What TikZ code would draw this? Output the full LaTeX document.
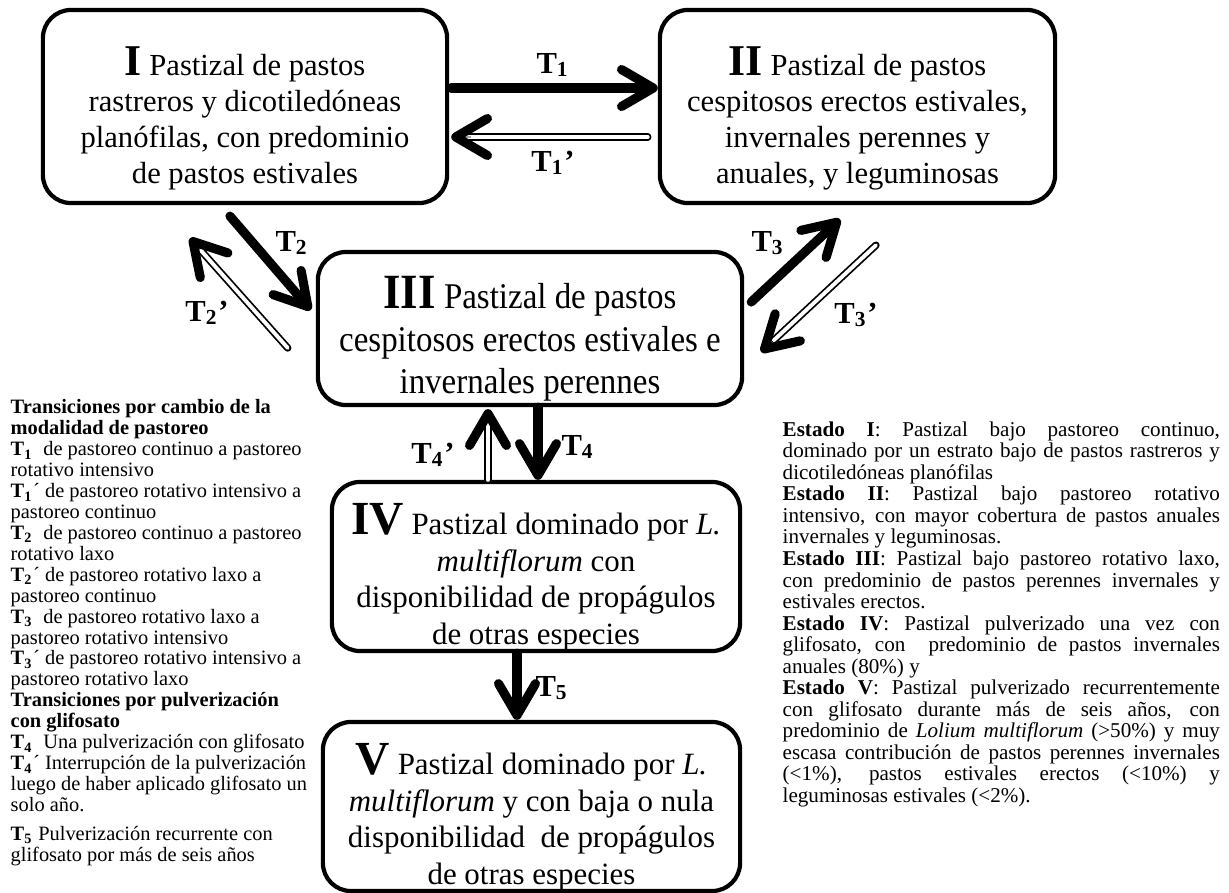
\documentclass[tikz,border=0pt]{standalone}
\usepackage{fontspec}
\setmainfont{Liberation Serif}
\newfontfamily\estrecha[FakeStretch=0.91]{Liberation Serif}
\usetikzlibrary{arrows.meta,calc}
\tikzset{
  every picture/.style={line join=round, line cap=round, x=0.01cm, y=-0.01cm},
  estado/.style={draw, line width=1.2pt, rounded corners=8pt, align=center, inner sep=0pt, font=\fontsize{8.7}{10.2}\selectfont},
  fuerte/.style={line width=2.6pt, -{Straight Barb[length=9pt,width=10.5pt,line width=2.6pt,round]}},
  doble/.style={double, double distance=1.1pt, line width=0.5pt, shorten >=1.6pt},
  punta/.style={line width=0.2pt, -{Straight Barb[length=9pt,width=10.5pt,line width=2.6pt,round]}},
  etiq/.style={inner sep=0pt, font=\fontsize{8.7}{9}\selectfont\bfseries},
  leyenda/.style={inner sep=0pt, align=left, font=\fontsize{5.8}{5.95}\selectfont},
  descr/.style={inner sep=0pt, text width=4.37cm, align=justify, font=\fontsize{6}{6.12}\selectfont,
    execute at begin node={\setlength{\parindent}{0pt}\tolerance=10000\relax}},
}
\newcommand{\estnum}[2][12.5]{{\rule{0pt}{15pt}\fontsize{#1}{#1}\selectfont\bfseries #2}}
\newcommand{\tr}[1]{\textbf{T\textsubscript{#1}}}

\begin{document}
\begin{tikzpicture}
\useasboundingbox (0,0) rectangle (1229,893);
\node[estado, minimum width=4.04cm, minimum height=1.93cm] (estI) at (245,106.5)
  {\estnum{I} Pastizal de pastos\\ rastreros y dicotiledóneas\\ planófilas, con predominio\\ de pastos estivales};
\node[estado, minimum width=3.95cm, minimum height=1.93cm] (estII) at (857.5,106.5)
  {\estnum{II} Pastizal de pastos\\ cespitosos erectos estivales,\\ invernales perennes y\\ anuales, y leguminosas};
\node[estado, minimum width=4.24cm, minimum height=1.53cm, font=\estrecha\fontsize{10.3}{12.2}\selectfont] (estIII) at (530,328.5)
  {\estnum[14]{III} Pastizal de pastos\\ cespitosos erectos estivales e\\ invernales perennes};
\node[estado, minimum width=4.08cm, minimum height=1.67cm, font=\fontsize{8.8}{10.4}\selectfont] (estIV) at (536,566.5)
  {\estnum[13.5]{IV} Pastizal dominado por \textit{L.}\\ \textit{multiflorum} con\\ disponibilidad de propágulos\\ de otras especies};
\node[estado, minimum width=4.17cm, minimum height=1.63cm, font=\fontsize{8.8}{10.4}\selectfont] (estV) at (531.5,806.5)
  {\estnum[13.5]{V} Pastizal dominado por \textit{L.}\\ \textit{multiflorum} y con baja o nula\\ disponibilidad\ \ de propágulos\\ de otras especies};

\draw[fuerte] ($(estI.east)+(2,-18.5)$) -- ($(estII.west)+(0,-18.5)$);
\coordinate (t1pa) at ($(estII.west)+(-10,30.5)$);
\coordinate (t1pb) at ($(estI.east)+(2,30.5)$);
\draw[doble] (t1pa) -- (t1pb);
\draw[punta] ($(t1pb)!0.1!(t1pa)$) -- (t1pb);

\draw[fuerte] ($(estI.south)+(-15,11)$) -- ($(estIII.west)+(-5,-18.5)$);
\coordinate (t2pa) at ($(estIII.west)+(-28,19.5)$);
\coordinate (t2pb) at ($(estI.south)+(-55,33)$);
\draw[doble] (t2pa) -- (t2pb);
\draw[punta] ($(t2pb)!0.1!(t2pa)$) -- (t2pb);

\draw[fuerte] ($(estIII.east)+(7,-26.5)$) -- ($(estII.south)+(-17.5,14)$);
\coordinate (t3pa) at ($(estII.south)+(18.5,40)$);
\coordinate (t3pb) at ($(estIII.east)+(17,23.5)$);
\draw[doble] (t3pa) -- (t3pb);
\draw[punta] ($(t3pb)!0.1!(t3pa)$) -- (t3pb);

\coordinate (t4pa) at ($(estIV.north)+(-48,0)$);
\coordinate (t4pb) at ($(estIII.south)+(-42,2)$);
\draw[doble] (t4pa) -- (t4pb);
\draw[punta] ($(t4pb)!0.1!(t4pa)$) -- (t4pb);
\draw[fuerte] ($(estIII.south)+(8,0)$) -- ($(estIV.north)+(2,0)$);

\draw[fuerte] ($(estIV.south)+(-19,0)$) -- ($(estV.north)+(-14.5,0)$);

\node[etiq] (lT1) at (553,65) {T\textsubscript{1}};
\node[etiq] (lT1p) at (553,163) {T\textsubscript{1}’};
\node[etiq] (lT2) at (292,243) {T\textsubscript{2}};
\node[etiq] (lT2p) at (207,313) {T\textsubscript{2}’};
\node[etiq] (lT3) at (768,243) {T\textsubscript{3}};
\node[etiq] (lT3p) at (856,315) {T\textsubscript{3}’};
\node[etiq] (lT4p) at (433,455) {T\textsubscript{4}’};
\node[etiq] (lT4) at (578,447) {T\textsubscript{4}};
\node[etiq] (lT5) at (552,688) {T\textsubscript{5}};

\node[leyenda, anchor=north west] (leyenda) at (10,399)
  {\textbf{Transiciones por cambio de la}\\
   \textbf{modalidad de pastoreo}\\
   \tr{1}\ \ de pastoreo continuo a pastoreo\\
   rotativo intensivo\\
   \tr{1}´ de pastoreo rotativo intensivo a\\
   pastoreo continuo\\
   \tr{2}\ \ de pastoreo continuo a pastoreo\\
   rotativo laxo\\
   \tr{2}´ de pastoreo rotativo laxo a\\
   pastoreo continuo\\
   \tr{3}\ \ de pastoreo rotativo laxo a\\
   pastoreo rotativo intensivo\\
   \tr{3}´ de pastoreo rotativo intensivo a\\
   pastoreo rotativo laxo\\
   \textbf{Transiciones por pulverización}\\
   \textbf{con glifosato}\\
   \tr{4}\ \ Una pulverización con glifosato\\
   \tr{4}´ Interrupción de la pulverización\\
   luego de haber aplicado glifosato un\\
   solo año.\\[2.3pt]
   \tr{5} Pulverización recurrente con\\
   glifosato por más de seis años};

\node[descr, anchor=north west] (estados) at (782,421)
  {{\bfseries Estado I}: Pastizal bajo pastoreo continuo,\linebreak dominado por un estrato bajo de pastos rastreros y\linebreak dicotiledóneas planófilas\par
   {\bfseries Estado II}: Pastizal bajo pastoreo rotativo\linebreak intensivo, con mayor cobertura de pastos anuales\linebreak invernales y leguminosas.\par
   {\bfseries Estado III}: Pastizal bajo pastoreo rotativo laxo,\linebreak con predominio de pastos perennes invernales y\linebreak estivales erectos.\par
   {\bfseries Estado IV}: Pastizal pulverizado una vez con\linebreak glifosato, con\ \ predominio de pastos invernales\linebreak anuales (80\%) y\par
   {\bfseries Estado V}: Pastizal pulverizado recurrentemente\linebreak con glifosato durante más de seis años, con\linebreak predominio de \textit{Lolium multiflorum} (>50\%) y muy\linebreak escasa contribución de pastos perennes invernales\linebreak (<1\%), pastos estivales erectos (<10\%) y\linebreak leguminosas estivales (<2\%).};
\end{tikzpicture}
\end{document}
